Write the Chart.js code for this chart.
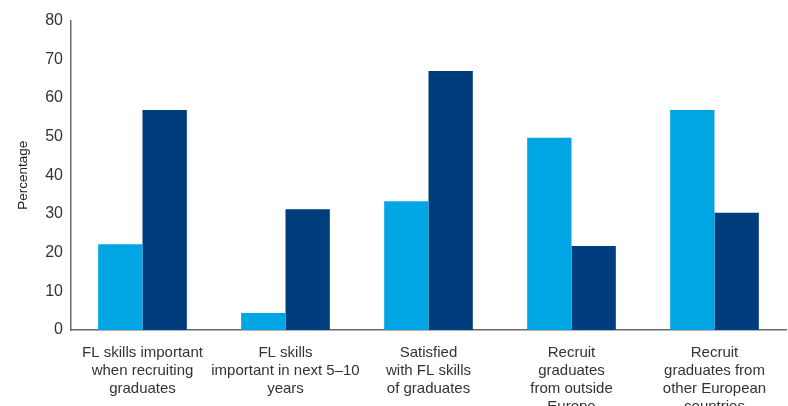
<!DOCTYPE html>
<html>
<head>
<meta charset="utf-8">
<script src="https://cdn.jsdelivr.net/npm/chart.js@4/dist/chart.umd.min.js"></script>
<style>
  html, body { margin: 0; padding: 0; background: #fff; overflow: hidden; }
  #wrap { width: 788px; height: 427px; margin-top: 3px; position: relative; }
</style>
</head>
<body>
<div id="wrap"><canvas id="chart"></canvas></div>
<script>
// Data
const categories = [
  ["FL skills important", "when recruiting", "graduates"],
  ["FL skills", "important in next 5\u201310", "years"],
  ["Satisfied", "with FL skills", "of graduates"],
  ["Recruit", "graduates", "from outside", "Europe"],
  ["Recruit", "graduates from", "other European", "countries"]
];
const lightSeries = [22.2, 4.4, 33.3, 49.7, 56.9];
const darkSeries = [56.9, 31.2, 67.0, 21.7, 30.3];
const yTicks = [0, 10, 20, 30, 40, 50, 60, 70, 80];

document.addEventListener("DOMContentLoaded", function () {
  const ctx = document.getElementById("chart").getContext("2d");

  new Chart(ctx, {
    type: "bar",
    data: {
      labels: categories,
      datasets: [
        {
          label: "Series 1",
          data: lightSeries,
          backgroundColor: "#00a5e3",
          categoryPercentage: 0.62,
          barPercentage: 1.0,
        },
        {
          label: "Series 2",
          data: darkSeries,
          backgroundColor: "#003d7c",
          categoryPercentage: 0.62,
          barPercentage: 1.0,
        },
      ],
    },
    options: {
      responsive: true,
      maintainAspectRatio: false,
      animation: false,
      layout: { padding: { top: 15, right: 2, left: 15, bottom: 0 } },
      plugins: {
        legend: { display: false },
        tooltip: { enabled: false },
      },
      scales: {
        x: {
          grid: { display: false, drawTicks: false },
          border: { display: true, color: "#6b6b6b", width: 1.5 },
          ticks: {
            color: "#333",
            padding: 14,
            maxRotation: 0,
            autoSkip: false,
            font: { family: "Liberation Sans", size: 15, lineHeight: 1.2 },
          },
        },
        y: {
          min: 0,
          max: 80,
          afterBuildTicks: function (axis) {
            axis.ticks = yTicks.map(function (v) { return { value: v }; });
          },
          grid: { display: false, drawTicks: false },
          border: { display: true, color: "#6b6b6b", width: 1.5 },
          ticks: {
            color: "#333",
            padding: 8,
            font: { family: "Liberation Sans", size: 16 },
          },
          title: {
            display: true,
            text: "Percentage",
            color: "#222",
            padding: { top: 0, bottom: 6 },
            font: { family: "Liberation Sans", size: 13.5 },
          },
        },
      },
    },
  });
});
</script>
</body>
</html>
